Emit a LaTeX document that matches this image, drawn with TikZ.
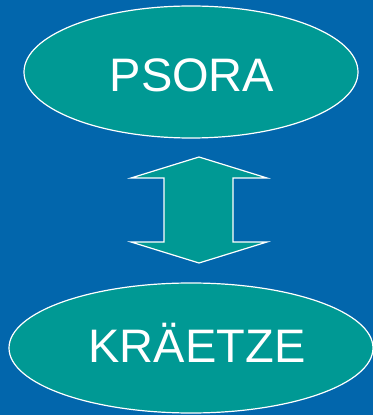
\documentclass[tikz,border=0pt]{standalone}
\usepackage{fontspec}
\setmainfont{Liberation Sans}
\usetikzlibrary{shapes.geometric}
\definecolor{bgblue}{RGB}{2,102,172}
\definecolor{teal}{RGB}{0,153,148}
\tikzset{
  oval/.style={ellipse, draw=white, line width=1.2pt, fill=teal, text=white,
    inner sep=0pt, font=\fontsize{47}{54}\selectfont},
  bigarrow/.style={draw=white, line width=1.2pt, fill=teal, line join=miter}
}
\begin{document}
\begin{tikzpicture}[x=1pt,y=1pt]
\fill[bgblue] (0,0) rectangle (373,415);
\useasboundingbox (0,0) rectangle (373,415);
\node[oval, minimum width=334pt, minimum height=132pt] (psora) at (191,343) {};
\node[text=white, font=\fontsize{47}{54}\selectfont, anchor=base] (psoratext) at (192,323) {PSORA};
\node[oval, minimum width=364pt, minimum height=130pt] (kraetze) at (191,67) {};
\node[text=white, font=\fontsize{47}{54}\selectfont, anchor=base] (kraetzetext) at (197,52) {KRÄETZE};
\draw[bigarrow] (199,258) -- (267,237) -- (233,237) -- (233,173) -- (267,173)
  -- (199,152) -- (131,173) -- (164,173) -- (164,237) -- (131,237) -- cycle;
\end{tikzpicture}
\end{document}
